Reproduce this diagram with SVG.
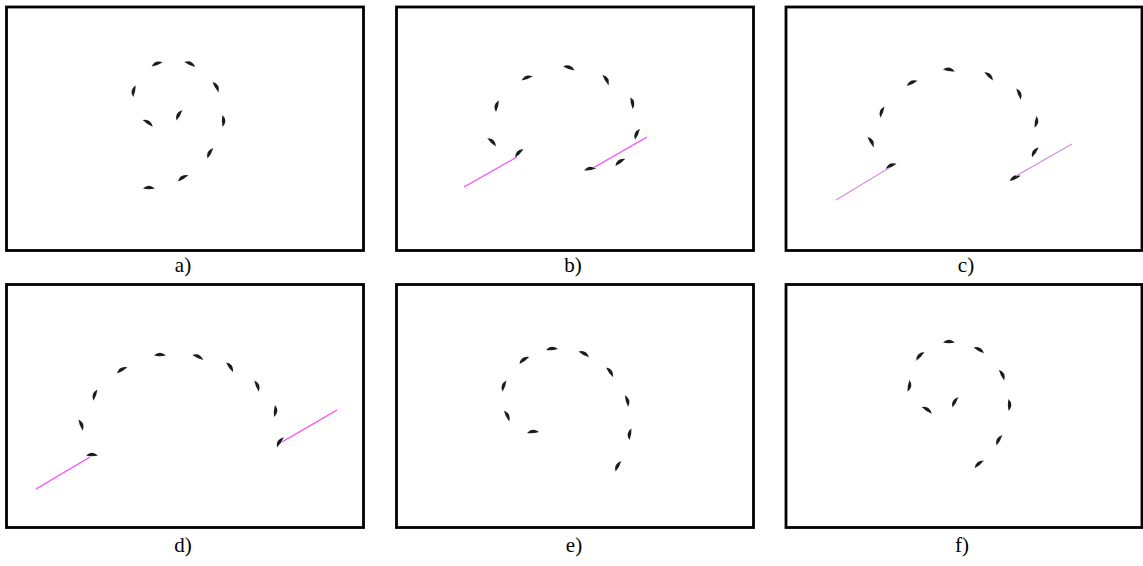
<svg xmlns="http://www.w3.org/2000/svg" xmlns:xlink="http://www.w3.org/1999/xlink" width="1143" height="566" viewBox="0 0 1143 566">
<style>
.frame{fill:#fff;stroke:#000;stroke-width:2.8}
.lbl{font-family:"Liberation Serif","Times New Roman",serif;font-size:21px;fill:#000;text-anchor:middle}
.mag{stroke:#ff3cff;stroke-width:1.1;fill:none}
.mag2{stroke:#d48ae0;stroke-width:1.1;fill:none}
.d{fill:#1c1c1c}
</style>
<defs>
<path id="k" d="M-6,0.6 Q-0.5,-5.2 6,0.4 Q0,1.9 -6,0.6Z"/>
</defs>
<rect width="1143" height="566" fill="#fff"/>

<g id="panel-a">
<rect class="frame" x="6.5" y="7" width="357" height="243.5"/>
<g class="d">
<use xlink:href="#k" transform="translate(157,64) rotate(-20)"/>
<use xlink:href="#k" transform="translate(190,64) rotate(25)"/>
<use xlink:href="#k" transform="translate(134,91) rotate(-78)"/>
<use xlink:href="#k" transform="translate(216,87) rotate(60)"/>
<use xlink:href="#k" transform="translate(148,123) rotate(35)"/>
<use xlink:href="#k" transform="translate(179,115) rotate(-60)"/>
<use xlink:href="#k" transform="translate(223,121) rotate(90)"/>
<use xlink:href="#k" transform="translate(210,153) rotate(-60)"/>
<use xlink:href="#k" transform="translate(183,178) rotate(-30)"/>
<use xlink:href="#k" transform="translate(149,188) rotate(0)"/>
</g>
<text class="lbl" x="183" y="272">a)</text>
</g>

<g id="panel-b">
<rect class="frame" x="396.5" y="7" width="357" height="243.5"/>
<g class="d">
<use xlink:href="#k" transform="translate(527,78) rotate(-20)"/>
<use xlink:href="#k" transform="translate(569,68) rotate(20)"/>
<use xlink:href="#k" transform="translate(606,80) rotate(60)"/>
<use xlink:href="#k" transform="translate(497,106) rotate(-75)"/>
<use xlink:href="#k" transform="translate(632,103) rotate(80)"/>
<use xlink:href="#k" transform="translate(492,142) rotate(45)"/>
<use xlink:href="#k" transform="translate(637,134) rotate(-65)"/>
<use xlink:href="#k" transform="translate(519,153) rotate(-45)"/>
<use xlink:href="#k" transform="translate(620,162) rotate(-35)"/>
<use xlink:href="#k" transform="translate(590,169) rotate(-8)"/>
</g>
<text class="lbl" x="573" y="272">b)</text>
</g>

<g id="panel-c">
<rect class="frame" x="786" y="7" width="356" height="243.5"/>
<g class="d">
<use xlink:href="#k" transform="translate(949,70) rotate(10)"/>
<use xlink:href="#k" transform="translate(912,83) rotate(-25)"/>
<use xlink:href="#k" transform="translate(989,76) rotate(45)"/>
<use xlink:href="#k" transform="translate(882,112) rotate(-70)"/>
<use xlink:href="#k" transform="translate(1019,94) rotate(70)"/>
<use xlink:href="#k" transform="translate(871,142) rotate(60)"/>
<use xlink:href="#k" transform="translate(1036,122) rotate(100)"/>
<use xlink:href="#k" transform="translate(891,166) rotate(-25)"/>
<use xlink:href="#k" transform="translate(1035,152) rotate(-55)"/>
<use xlink:href="#k" transform="translate(1015,178) rotate(-25)"/>
</g>
<text class="lbl" x="966" y="272">c)</text>
</g>

<g id="panel-d">
<rect class="frame" x="6.5" y="284.5" width="357" height="243"/>
<g class="d">
<use xlink:href="#k" transform="translate(160,355) rotate(0)"/>
<use xlink:href="#k" transform="translate(198,357) rotate(25)"/>
<use xlink:href="#k" transform="translate(122,370) rotate(-30)"/>
<use xlink:href="#k" transform="translate(230,367) rotate(55)"/>
<use xlink:href="#k" transform="translate(95,395) rotate(-70)"/>
<use xlink:href="#k" transform="translate(257,386) rotate(70)"/>
<use xlink:href="#k" transform="translate(81,425) rotate(70)"/>
<use xlink:href="#k" transform="translate(275,411) rotate(95)"/>
<use xlink:href="#k" transform="translate(92,455) rotate(0)"/>
<use xlink:href="#k" transform="translate(280,442) rotate(-55)"/>
</g>
<text class="lbl" x="183" y="552">d)</text>
</g>

<g id="panel-e">
<rect class="frame" x="396.5" y="284.5" width="357" height="243"/>
<g class="d">
<use xlink:href="#k" transform="translate(552,349) rotate(-5)"/>
<use xlink:href="#k" transform="translate(524,360) rotate(-35)"/>
<use xlink:href="#k" transform="translate(584,354) rotate(30)"/>
<use xlink:href="#k" transform="translate(504,386) rotate(-70)"/>
<use xlink:href="#k" transform="translate(610,372) rotate(55)"/>
<use xlink:href="#k" transform="translate(507,416) rotate(65)"/>
<use xlink:href="#k" transform="translate(627,401) rotate(75)"/>
<use xlink:href="#k" transform="translate(533,432) rotate(-5)"/>
<use xlink:href="#k" transform="translate(630,434) rotate(-80)"/>
<use xlink:href="#k" transform="translate(618,466) rotate(-60)"/>
</g>
<text class="lbl" x="574" y="552">e)</text>
</g>

<g id="panel-f">
<rect class="frame" x="786" y="284.5" width="356" height="243"/>
<g class="d">
<use xlink:href="#k" transform="translate(949,342) rotate(0)"/>
<use xlink:href="#k" transform="translate(920,356) rotate(-45)"/>
<use xlink:href="#k" transform="translate(979,350) rotate(30)"/>
<use xlink:href="#k" transform="translate(909,386) rotate(100)"/>
<use xlink:href="#k" transform="translate(1002,375) rotate(65)"/>
<use xlink:href="#k" transform="translate(927,410) rotate(35)"/>
<use xlink:href="#k" transform="translate(955,402) rotate(-60)"/>
<use xlink:href="#k" transform="translate(1009,405) rotate(90)"/>
<use xlink:href="#k" transform="translate(999,440) rotate(-60)"/>
<use xlink:href="#k" transform="translate(979,464) rotate(-40)"/>
</g>
<text class="lbl" x="962" y="552">f)</text>
</g>

<g id="connectors">
<line class="mag" x1="464" y1="187" x2="517" y2="157"/>
<line class="mag" x1="593" y1="168" x2="647" y2="137"/>
<line class="mag2" x1="836" y1="200" x2="889" y2="168"/>
<line class="mag2" x1="1016" y1="176" x2="1072" y2="144"/>
<line class="mag" x1="36" y1="489" x2="90" y2="457"/>
<line class="mag" x1="282" y1="442" x2="337" y2="410"/>
</g>
</svg>
